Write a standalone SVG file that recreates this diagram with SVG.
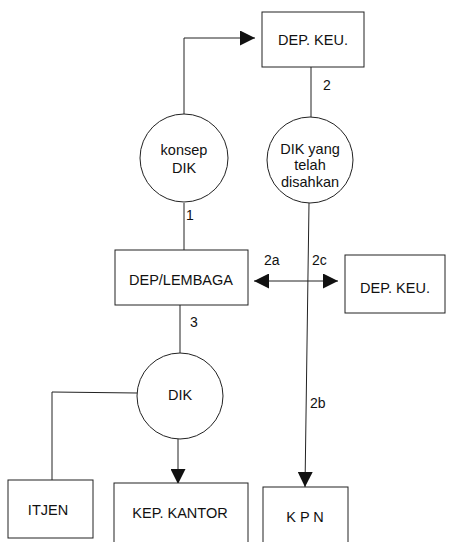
<svg xmlns="http://www.w3.org/2000/svg" width="451" height="542" viewBox="0 0 451 542">
<defs>
<style>
.box{fill:#fff;stroke:#222;stroke-width:1}
.c{fill:#fff;stroke:#222;stroke-width:1}
.ln{fill:none;stroke:#222;stroke-width:1}
text{font-family:"Liberation Sans",Arial,sans-serif;font-size:14.5px;fill:#111;text-anchor:middle}
.lbl{text-anchor:start;font-size:14px}
</style>
<marker id="ah" viewBox="0 0 10 10" refX="10" refY="5" markerWidth="15" markerHeight="15" markerUnits="userSpaceOnUse" orient="auto-start-reverse">
<path d="M0,0 L10,5 L0,10 Z" fill="#111"/>
</marker>
</defs>
<rect width="451" height="542" fill="#fff"/>
<g id="connectors">
<polyline class="ln" points="184,114 184,38 255,38" marker-end="url(#ah)"/>
<line class="ln" x1="311" y1="67" x2="311" y2="117"/>
<line class="ln" x1="184" y1="203" x2="184" y2="250"/>
<line class="ln" x1="309" y1="203" x2="305" y2="487" marker-end="url(#ah)"/>
<line class="ln" x1="254" y1="281" x2="338" y2="281" marker-start="url(#ah)" marker-end="url(#ah)"/>
<line class="ln" x1="180" y1="305" x2="180" y2="353"/>
<polyline class="ln" points="137,393 52,392 52,480"/>
<line class="ln" x1="178" y1="439" x2="178" y2="484" marker-end="url(#ah)"/>
<text class="lbl" x="323" y="90">2</text>
<text class="lbl" x="186" y="220">1</text>
<text class="lbl" x="264" y="265">2a</text>
<text class="lbl" x="312" y="265">2c</text>
<text class="lbl" x="190" y="327">3</text>
<text class="lbl" x="310" y="408">2b</text>
</g>
<g id="dep-keu-top">
<rect class="box" x="262" y="12" width="102" height="55"/>
<text x="313" y="45">DEP. KEU.</text>
</g>
<g id="konsep-dik">
<circle class="c" cx="184" cy="158" r="44"/>
<text x="184" y="155">konsep</text>
<text x="184" y="173">DIK</text>
</g>
<g id="dik-disahkan">
<circle class="c" cx="310" cy="160" r="43"/>
<text x="310" y="154">DIK yang</text>
<text x="310" y="170">telah</text>
<text x="310" y="187">disahkan</text>
</g>
<g id="dep-lembaga">
<rect class="box" x="115" y="250" width="133" height="55"/>
<text x="181" y="285">DEP/LEMBAGA</text>
</g>
<g id="dep-keu-right">
<rect class="box" x="345" y="255" width="100" height="58"/>
<text x="395" y="293">DEP. KEU.</text>
</g>
<g id="dik">
<circle class="c" cx="180" cy="396" r="43"/>
<text x="180" y="400">DIK</text>
</g>
<g id="itjen">
<rect class="box" x="8" y="480" width="85" height="58"/>
<text x="48" y="515">ITJEN</text>
</g>
<g id="kep-kantor">
<rect class="box" x="114" y="483" width="134" height="62"/>
<text x="180" y="518">KEP. KANTOR</text>
</g>
<g id="kpn">
<rect class="box" x="263" y="487" width="85" height="60"/>
<text x="305" y="522">K P N</text>
</g>
</svg>
